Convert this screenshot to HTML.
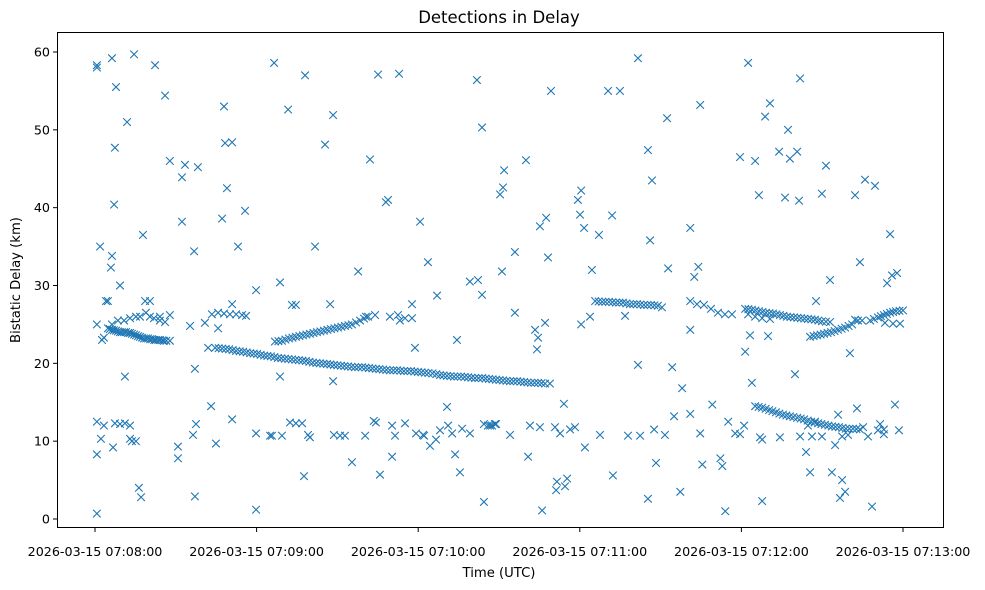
<!DOCTYPE html>
<html><head><meta charset="utf-8">
<style>
html,body{margin:0;padding:0;background:#fff;}
svg{display:block;font-family:"DejaVu Sans","Liberation Sans",sans-serif;}
</style></head>
<body>
<svg id="chart" width="985" height="590" viewBox="0 0 985 590">
<rect x="0" y="0" width="985" height="590" fill="#fff"/>
<text x="499" y="23" text-anchor="middle" font-size="16.5" fill="#000">Detections in Delay</text>
<g id="marks"></g>
<rect x="57.5" y="32.5" width="886" height="495" fill="none" stroke="#000" stroke-width="1"/>
<g id="xaxis"></g>
<g id="yaxis"></g>
<text x="499" y="577" text-anchor="middle" font-size="13.2" fill="#000">Time (UTC)</text>
<text transform="translate(20,280) rotate(-90)" text-anchor="middle" font-size="13.2" fill="#000">Bistatic Delay (km)</text>
</svg>
<script>
// seconds after 2026-03-15 07:08:00 UTC, delay in km
const scatterTimes=[0.7,0.7,0.7,0.7,0.7,0.7,1.9,2.2,2.6,3.3,3.3,4.1,4.8,5.9,6.3,6.3,6.7,7.1,7.4,7.8,7.4,9.3,9.3,11.1,11.9,11.1,13,13,13.7,14.5,15.2,16.3,17.1,17.8,18.6,20.4,22.3,24.1,26,27.8,30.8,30.8,32.3,32.3,33.4,35.3,36.4,36.8,37.1,37.1,37.5,38.2,40.8,42,43.1,44.9,45.7,47.2,47.9,48.3,49,50.9,50.9,50.9,53.1,55.7,59.8,59.8,59.8,65.7,66.5,68.7,68.7,69.4,71.7,73.1,74.6,74.6,76.9,77.6,78,79.1,79.8,81.7,85.4,87.3,88.4,88.4,88.7,92.8,95.4,97.7,100.6,102.1,105.1,105.8,104.3,108,108.8,110.3,110.3,112.9,113.2,117.7,118.8,119.2,120.7,121.8,123.6,124.4,126.6,127,128.1,130.7,133.7,134.4,135.5,136.3,139.2,141.8,142.2,143.7,143.7,144.4,144.4,150.4,151.5,151.9,151.1,155.9,155.9,160,160.8,163.4,164.1,164.5,165.2,166,167.1,167.5,168.2,169.3,171.2,171.5,172.7,174.1,174.5,175.3,176.4,179.3,180.1,180.5,180.5,181.6,181.9,183.8,184.5,187.1,190.5,192,192.3,194.9,196.8,201.6,201.6,205.3,205.3,206.1,206.8,207.6,208.3,210.5,212.4,212.8,214.3,215,217.3,218,221,221,221,222.5,224,224.7,225.5,229.2,232.2,232.9,234,235.1,237.7,239.5,241,241.4,242.5,243.2,243.9,245.1,246.5,247.7,248.8,250.6,249.9,254,256.2,257.3,258,259.9,260.7,261.4,261.8,264,265.5,267.7,269.9,271.4,272.9,273.6,274.8,275.9,276.6,278.5,277.4,280.3,282.2,282.9,284,285.9,288.5,289.6,291.5,294.1,295.2,295.9,297,297.8,298.5];
const scatterDelays=[58.3,58,25,12.5,8.3,0.7,35,10.3,23,23.3,12,28,28,32.3,59.2,33.8,9.2,40.4,47.7,55.5,12.3,12.2,30,18.3,51,12.3,12,10.3,10,59.7,10,4,2.8,36.5,28,28,58.3,26,54.4,46,9.3,7.8,38.2,43.9,45.5,24.8,10.8,34.4,19.3,2.9,12.2,45.2,25.2,22,14.5,9.7,24.5,38.6,53,48.3,42.5,48.4,27.6,12.8,35,39.6,1.2,29.4,11,10.7,58.6,30.4,18.3,10.7,52.6,27.5,27.5,12.3,12.3,5.5,57,10.8,10.5,35,48.1,27.6,51.9,17.7,10.8,10.7,7.3,31.8,26,46.2,57.1,5.7,12.4,40.7,41,8,12,57.2,25.5,27.6,22,11,38.2,10.8,33,9.4,10.2,28.7,11.4,14.4,8.3,23,6,11.6,30.5,56.4,30.7,50.3,28.8,2.2,12.2,41.7,42.6,44.8,31.8,34.3,26.5,46.1,8,24.3,21.8,23.3,37.6,1.1,25.2,38.7,33.6,55,3.7,4.8,11,14.8,4.2,5.2,11.5,41,39.1,42.2,25,37.4,9.2,26,32,36.5,55,39,5.6,55,26.1,59.2,19.8,2.6,47.4,35.8,43.5,11.5,7.2,27.2,51.5,32.2,19.5,13.2,3.5,16.8,37.4,13.5,24.3,31.1,32.4,53.2,7,14.7,7.8,6.8,1,12.5,11,46.5,12,21.5,58.6,23.6,17.5,46,41.6,2.3,51.7,53.4,23.5,47.2,41.3,50,46.3,18.6,47.2,40.9,56.6,8.6,6,28,41.8,45.4,30.7,6,9.5,13.4,2.7,3.5,5,21.3,41.6,14.2,33,43.6,1.6,42.8,12.2,30.3,36.6,31.3,14.7,31.6,11.4];
const bandTimes=[65,72.4,91,100.3,103.5,111.4,115.1,122.2,131.1,132.6,139.2,146.7,148.5,154.1,161.5,165.2,170.8,178.2,187.5,197.9,202.4,211.6,224.7,239.5,246.9,247.7,254.3,261.8,264.7,266.2,267.3,269.9,277.4,279.6,285.2,287,290.7,292.9,292.9,145.9,147.4,148.9];
const bandDelays=[10.7,12.4,10.7,10.7,12.6,10.7,12.3,10.7,12,11,11,12,12.2,10.8,12,11.8,11.8,11.8,10.8,10.7,10.7,10.8,11,10.9,10.5,10.2,10.5,10.6,12,10.6,12.5,10.6,10.6,10.8,11.8,10.6,11.4,11.5,10.9,12,12,12.2];
const trackATimes=[4.8,6.3,7.8,9.3,10.8,12.3,13.7,15.2,16.7,18.2,19.7,21.2,22.6,24.1,25.6,27.8,15.2,16.7,18.9,20.4,21.9,24.1,26,27.8,6.3,8.5,10.8,13,5.5,7,8.5,10,11.5,13,14.5,16,17.5,19,20.5,22,23.5,25,26.5];
const trackADelays=[24.5,24.3,24.2,24,24,23.9,23.8,23.6,23.4,23.2,23.2,23.1,23,23,22.9,22.9,26,26,26.5,26,25.8,25.5,25.3,26.2,25,25.5,25.5,25.8,24.4,24.25,24.1,24,24,23.9,23.7,23.5,23.3,23.2,23.1,23,23,22.95,22.9];
const trackBTimes=[44.6,47.2,49.8,52.4,55,57.6,60.2,62.8,65.3,67.9,70.5,73.1,75.7,78.3,80.9,83.5,86.1,88.7,91.3,93.9,96.5,99.1,101.7,104.3,106.9,109.5,112.1,114.7,117.3,119.9,122.5,128.1,130.7,133.3,135.9,138.5,141.1,143.7,146.3,148.9,151.5,154.1,156.7,159.3,161.9,164.5,167.1,168.9,43.4,45.7,47.9,50.1,52.4,54.6,56.1,
45.9,48.5,51.1,53.7,56.3,58.9,61.5,64,66.6,69.2,71.8,74.4,77,79.6,82.2,84.8,87.4,90,92.6,95.2,97.8,100.4,103,105.6,108.2,110.8,113.4,116,118.6,121.2,123.8,125.3,126.7,129.4,132,134.6,137.2,139.8,142.4,145,147.6,150.2,152.8,155.4,158,160.6,163.2,165.8];
const trackBDelays=[22,21.9,21.8,21.6,21.5,21.3,21.2,21,20.9,20.7,20.6,20.5,20.4,20.3,20.1,20,19.9,19.8,19.7,19.6,19.5,19.5,19.4,19.3,19.2,19.1,19.1,19,19,18.9,18.8,18.5,18.4,18.3,18.3,18.2,18.1,18.1,18,17.9,17.8,17.7,17.7,17.6,17.5,17.5,17.4,17.4,26.3,26.5,26.4,26.3,26.3,26.2,26.1,
21.95,21.85,21.7,21.55,21.4,21.25,21.1,20.95,20.8,20.65,20.55,20.45,20.35,20.2,20.05,19.95,19.85,19.75,19.65,19.55,19.5,19.45,19.35,19.25,19.15,19.1,19.05,19,18.95,18.85,18.75,18.7,18.6,18.45,18.35,18.3,18.25,18.15,18.1,18.05,17.95,17.85,17.75,17.7,17.65,17.55,17.5,17.45];
const trackCTimes=[66.8,69.4,72,74.6,77.2,79.8,82.4,85,87.6,90.2,92.8,95.4,98.4,101.4,104,109.5,112.5,115.1,117.7,68.1,70.7,73.3,75.9,78.5,81.1,83.7,86.3,88.9,91.5,94.1,96.9,99.9];
const trackCDelays=[22.8,22.9,23.2,23.4,23.6,23.8,24,24.2,24.4,24.6,24.8,25,25.5,26,26.2,26,26.2,25.8,25.8,22.85,23.05,23.3,23.5,23.7,23.9,24.1,24.3,24.5,24.7,24.9,25.25,25.75];
const trackDTimes=[185.7,188.3,190.8,193.4,196,198.6,201.2,203.8,206.4,209,221,223.5,226.1,228.7,231.3,233.9,236.5,187,189.5,192.1,194.7,197.3,199.9,202.5,205.1,207.7];
const trackDDelays=[28,27.9,27.9,27.8,27.8,27.6,27.6,27.5,27.5,27.4,28,27.6,27.5,27,26.5,26.3,26.3,27.95,27.9,27.85,27.8,27.7,27.6,27.55,27.5,27.45];
const trackETimes=[241.4,243.9,246.5,249.1,251.7,254.3,256.9,259.5,262.1,264.7,267.3,269.9,272.9,242.5,245.1,247.7,250.6,242.6,245.2,247.8,250.4,253,255.6,258.2,260.8,263.4,266,268.6,271.4];
const trackEDelays=[27,26.9,26.7,26.5,26.4,26.2,26,25.9,25.8,25.7,25.6,25.4,25.3,26.3,26,25.8,25.7,26.95,26.8,26.6,26.45,26.3,26.1,25.95,25.85,25.75,25.65,25.5,25.35];
const trackFTimes=[245.1,247.7,250.3,252.8,255.4,258,260.7,263.3,265.9,268.5,271,273.6,276.2,278.8,281.4,284,246.4,249,251.5,254.1,256.7,259.3,262,264.6,267.2,269.7,272.3,274.9,277.5,280.1,282.7];
const trackFDelays=[14.5,14.3,14,13.7,13.4,13.2,13,12.8,12.5,12.3,12.1,11.9,11.8,11.6,11.6,11.5,14.4,14.15,13.85,13.55,13.3,13.1,12.9,12.65,12.4,12.2,12,11.85,11.7,11.6,11.55];
const trackGTimes=[265.5,268.1,270.7,273.3,275.9,278.5,281.1,283.3,282.2,284.8,287.8,290.7,292.9,295.2,297.4,300,293.3,296.3,298.9,266.8,269.4,272,274.6,277.2,279.8,289.2,291.8,294,296.3,298.7];
const trackGDelays=[23.4,23.6,23.8,24,24.3,24.6,25,25.5,25.6,25.5,25.5,25.9,26.2,26.5,26.7,26.8,25.2,25.1,25.1,23.5,23.7,23.9,24.15,24.45,24.8,25.7,26.05,26.35,26.6,26.75];
const yTicks=[0,10,20,30,40,50,60];
const xTicks=[0,60,120,180,240,300];
const xTickLabels=["2026-03-15 07:08:00","2026-03-15 07:09:00","2026-03-15 07:10:00","2026-03-15 07:11:00","2026-03-15 07:12:00","2026-03-15 07:13:00"];

const NS="http://www.w3.org/2000/svg";
function xScale(t){return 95+t*(808/300);}
function yScale(d){return 519-d*(467/60);}
const marks=document.getElementById('marks');
const allT=[].concat(scatterTimes,bandTimes,trackATimes,trackBTimes,trackCTimes,trackDTimes,trackETimes,trackFTimes,trackGTimes);
const allD=[].concat(scatterDelays,bandDelays,trackADelays,trackBDelays,trackCDelays,trackDDelays,trackEDelays,trackFDelays,trackGDelays);
const n=Math.min(allT.length,allD.length);
for(let i=0;i<n;i++){
  const cx=xScale(allT[i]),cy=yScale(allD[i]),r=3.8;
  const p=document.createElementNS(NS,'path');
  p.setAttribute('d',`M${cx-r},${cy-r}L${cx+r},${cy+r}M${cx-r},${cy+r}L${cx+r},${cy-r}`);
  p.setAttribute('stroke','#1f77b4');
  p.setAttribute('stroke-width','1.1');
  p.setAttribute('fill','none');
  
  
  marks.appendChild(p);
}
const xa=document.getElementById('xaxis');
xTicks.forEach((t,i)=>{
  const x=xScale(t);
  const l=document.createElementNS(NS,'line');
  l.setAttribute('x1',x);l.setAttribute('x2',x);l.setAttribute('y1',528);l.setAttribute('y2',532);
  l.setAttribute('stroke','#000');
  
  
  xa.appendChild(l);
  const tx=document.createElementNS(NS,'text');
  tx.setAttribute('x',x);tx.setAttribute('y',556);tx.setAttribute('text-anchor','middle');tx.setAttribute('font-size','12.7');
  tx.textContent=xTickLabels[i];
  
  
  xa.appendChild(tx);
});
const ya=document.getElementById('yaxis');
yTicks.forEach(v=>{
  const y=yScale(v);
  const l=document.createElementNS(NS,'line');
  l.setAttribute('x1',53);l.setAttribute('x2',57);l.setAttribute('y1',y);l.setAttribute('y2',y);
  l.setAttribute('stroke','#000');
  
  
  ya.appendChild(l);
  const tx=document.createElementNS(NS,'text');
  tx.setAttribute('x',50);tx.setAttribute('y',y+4.5);tx.setAttribute('text-anchor','end');tx.setAttribute('font-size','12.7');
  tx.textContent=String(v);
  
  
  ya.appendChild(tx);
});
</script>
</body></html>
